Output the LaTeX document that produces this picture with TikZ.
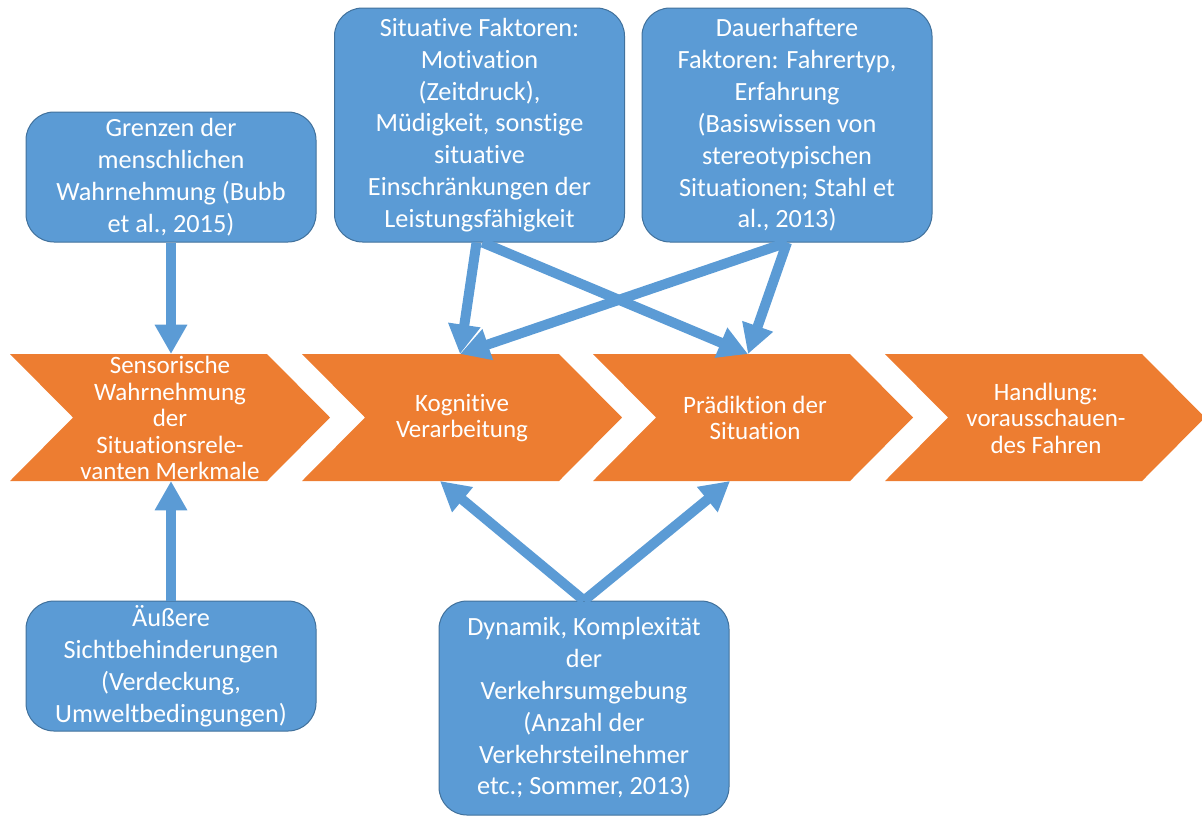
\documentclass[tikz,border=0pt]{standalone}
\usepackage{fontspec}
\setmainfont{Carlito}[Ligatures={NoCommon}]
\usetikzlibrary{arrows.meta,calc}
\definecolor{orng}{HTML}{ED7D31}
\definecolor{blu}{HTML}{5B9BD5}
\definecolor{bluedge}{HTML}{41719C}
\begin{document}
\begin{tikzpicture}[x=0.75pt,y=-0.75pt,
  box/.style={draw=bluedge, line width=0.75pt, fill=blu, rounded corners=21pt,
    text=white, align=center, inner sep=0pt,
    font=\fontsize{19.7}{23.9}\selectfont, minimum width=217.5pt},
  chevtext/.style={text=white, align=center, inner sep=0pt,
    font=\fontsize{18.75}{19.9}\selectfont},
  chevshape/.style={fill=orng},
  arr/.style={draw=blu, line width=7.5pt, -{Triangle[width=23pt,length=22pt]}}]
\useasboundingbox (0,0) rectangle (1202,819);
\clip (0,0) rectangle (1202,819);
% chevrons
\foreach \x in {10,302,593,885}
  \fill[chevshape] (\x,354) -- ++(257,0) -- ++(63,63.5) -- ++(-63,63.5) -- ++(-257,0) -- ++(63,-63.5) -- cycle;
\node[chevtext] (c1) at (170,418) {Sensorische\\Wahrnehmung\\der\\Situationsrele-\\vanten Merkmale};
\node[chevtext] (c2) at (462,418) {Kognitive\\Verarbeitung};
\node[chevtext] (c3) at (755,418) {Prädiktion der\\Situation};
\node[chevtext] (c4) at (1046,418) {Handlung:\\vorausschauen-\\des Fahren};
% boxes
\node[box, minimum height=97.5pt] (a) at (171,177) {Grenzen der\\menschlichen\\Wahrnehmung (Bubb\\et al., 2015)};
\node[box, minimum height=175.5pt] (b) at (479.5,125) {Situative Faktoren:\\Motivation\\(Zeitdruck),\\Müdigkeit, sonstige\\situative\\Einschränkungen der\\Leistungsfähigkeit};
\node[box, minimum height=175.5pt] (c) at (787,125) {Dauerhaftere\\Faktoren: Fahrertyp,\\Erfahrung\\(Basiswissen von\\stereotypischen\\Situationen; Stahl et\\al., 2013)};
\node[box, minimum height=97.5pt] (d) at (171,666) {Äußere\\Sichtbehinderungen\\(Verdeckung,\\Umweltbedingungen)};
\node[box, minimum height=160.5pt] (e) at (584,708) {Dynamik, Komplexität\\der\\Verkehrsumgebung\\(Anzahl der\\Verkehrsteilnehmer\\etc.; Sommer, 2013)};
% arrow targets
\coordinate (c1t) at (171,354);
\coordinate (c1b) at (171,481);
\coordinate (c2t) at (460,354);
\coordinate (c3t) at (748,354);
\coordinate (c2b) at (440,481);
\coordinate (c3b) at (730,481);
% arrows
\draw[arr] (a.south) -- (c1t);
\draw[arr] (d.north) -- (c1b);
\draw[arr] ($(b.south)+(-3,0)$) -- (c2t);
\draw[arr] ($(b.south)+(3,0)$) -- (c3t);
\draw[arr] (c.south) -- (c2t);
\draw[arr] (c.south) -- (c3t);
\draw[arr] (e.north) -- (c2b);
\draw[arr] (e.north) -- (c3b);
\end{tikzpicture}
\end{document}
